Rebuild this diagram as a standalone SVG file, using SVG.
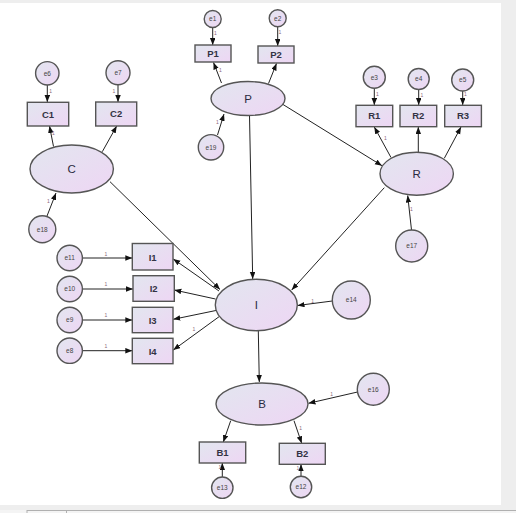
<svg xmlns="http://www.w3.org/2000/svg" width="516" height="513" viewBox="0 0 516 513">
<defs>
<linearGradient id="g" x1="0" y1="0" x2="1" y2="1">
<stop offset="0" stop-color="#e2e6ef"/>
<stop offset="1" stop-color="#eed6f4"/>
</linearGradient>
<marker id="a" markerUnits="userSpaceOnUse" markerWidth="8" markerHeight="6" refX="7" refY="2.75" orient="auto">
<path d="M0,0 L7,2.75 L0,5.5 z" fill="#111"/>
</marker>
<style>
.n{fill:url(#g);stroke:#555;stroke-width:1.4}
.lv{font-family:"Liberation Sans",Arial,sans-serif;font-size:11.5px;fill:#2a2a40;text-anchor:middle}
.ob{font-family:"Liberation Sans",Arial,sans-serif;font-size:9.5px;font-weight:bold;fill:#333344;text-anchor:middle}
.er{font-family:"Liberation Sans",Arial,sans-serif;font-size:6.5px;fill:#444;text-anchor:middle}
.one{font-family:"Liberation Sans",Arial,sans-serif;font-size:5px;fill:#8a6a7a;text-anchor:middle}
.c line{stroke:#222;stroke-width:1;marker-end:url(#a)}
</style>
</defs>
<rect x="0" y="0" width="516" height="513" fill="#eeeeee"/>
<rect x="0" y="3" width="501" height="502" fill="#ffffff"/>
<rect x="0" y="510" width="516" height="3" fill="#f4f4f4"/>
<line x1="27" y1="510.5" x2="516" y2="510.5" stroke="#b0b0b0" stroke-width="1"/>
<line x1="27" y1="510" x2="27" y2="513" stroke="#b0b0b0" stroke-width="1"/>
<line x1="66.5" y1="510" x2="66.5" y2="513" stroke="#b0b0b0" stroke-width="1"/>

<g class="c" id="connectors">
<line x1="212.7" y1="27.5" x2="212.7" y2="45"/>
<line x1="277.7" y1="27" x2="277.7" y2="46"/>
<line x1="221.5" y1="83" x2="213.5" y2="62.5"/>
<line x1="268.5" y1="83.5" x2="276.5" y2="63.5"/>
<line x1="217.5" y1="135" x2="224" y2="114"/>
<line x1="249.5" y1="115.5" x2="252.7" y2="279"/>
<line x1="282.7" y1="104.3" x2="382" y2="165.7"/>
<line x1="374.3" y1="88.5" x2="374.3" y2="105"/>
<line x1="418.7" y1="89.5" x2="418.7" y2="105"/>
<line x1="462.7" y1="91" x2="462.7" y2="105"/>
<line x1="391" y1="157.5" x2="374.3" y2="127"/>
<line x1="418.3" y1="152.3" x2="418.3" y2="127"/>
<line x1="444.3" y1="158.3" x2="461" y2="127"/>
<line x1="411.5" y1="230" x2="407.7" y2="195.5"/>
<line x1="384.3" y1="187.7" x2="291.7" y2="290"/>
<line x1="53.5" y1="146.5" x2="49.5" y2="126"/>
<line x1="102.3" y1="151.7" x2="116.7" y2="126"/>
<line x1="47.3" y1="85" x2="47.3" y2="102"/>
<line x1="118" y1="84.7" x2="118" y2="102"/>
<line x1="47" y1="216" x2="56" y2="193"/>
<line x1="110" y1="181.7" x2="220" y2="289.5"/>
<line x1="219" y1="291" x2="173.3" y2="259"/>
<line x1="215.5" y1="299" x2="174.3" y2="290"/>
<line x1="218.3" y1="310" x2="173.3" y2="319.3"/>
<line x1="220" y1="316" x2="173.3" y2="350"/>
<line x1="82.4" y1="258" x2="132.3" y2="258"/>
<line x1="82.4" y1="289" x2="133" y2="289"/>
<line x1="82.4" y1="320" x2="132.3" y2="320"/>
<line x1="82.4" y1="350.7" x2="132.3" y2="350.7"/>
<line x1="332.3" y1="301" x2="297.5" y2="305.5"/>
<line x1="258.3" y1="330.7" x2="259.3" y2="382"/>
<line x1="357.5" y1="392" x2="308.5" y2="403.3"/>
<line x1="230.7" y1="420.7" x2="223.3" y2="442"/>
<line x1="294" y1="420.7" x2="301.7" y2="443.3"/>
<line x1="222.3" y1="477" x2="222.3" y2="463"/>
<line x1="301" y1="476.3" x2="301" y2="464.3"/>
</g>

<g id="pathlabels">
<text class="one" x="215.5" y="35">1</text>
<text class="one" x="280" y="34">1</text>
<text class="one" x="220.5" y="72">1</text>
<text class="one" x="217.5" y="123.5">1</text>
<text class="one" x="50.7" y="92.5" fill="#c04040">1</text>
<text class="one" x="114" y="92.5">1</text>
<text class="one" x="53.3" y="134.5">1</text>
<text class="one" x="48.3" y="203">1</text>
<text class="one" x="377.5" y="96">1</text>
<text class="one" x="422" y="96.5">1</text>
<text class="one" x="465.5" y="96">1</text>
<text class="one" x="385.5" y="140">1</text>
<text class="one" x="411.5" y="211">1</text>
<text class="one" x="106" y="256" fill="#5a7aa8">1</text>
<text class="one" x="106" y="286" fill="#5a7aa8">1</text>
<text class="one" x="106" y="317" fill="#5a7aa8">1</text>
<text class="one" x="106" y="348" fill="#5a7aa8">1</text>
<text class="one" x="194" y="331" fill="#5a7aa8">1</text>
<text class="one" x="312.7" y="302.5">1</text>
<text class="one" x="331.7" y="396" fill="#5a7aa8">1</text>
<text class="one" x="300.7" y="429.5" fill="#c04040">1</text>
<text class="one" x="220" y="469">1</text>
<text class="one" x="298" y="470">1</text>
</g>

<g id="P"><ellipse class="n" cx="248" cy="98.5" rx="37" ry="17"/><text class="lv" x="248" y="102.5">P</text></g>
<g id="C"><ellipse class="n" cx="71.7" cy="169" rx="41.7" ry="24"/><text class="lv" x="71.7" y="173">C</text></g>
<g id="R"><ellipse class="n" cx="416.7" cy="173.7" rx="36.7" ry="21.5"/><text class="lv" x="416.7" y="177.7">R</text></g>
<g id="I"><ellipse class="n" cx="256.3" cy="305" rx="41" ry="25.7"/><text class="lv" x="256.3" y="309">I</text></g>
<g id="B"><ellipse class="n" cx="262" cy="404" rx="46" ry="21"/><text class="lv" x="262" y="408">B</text></g>

<g id="P1"><rect class="n" x="195" y="45" width="36" height="17"/><text class="ob" x="213" y="57">P1</text></g>
<g id="P2"><rect class="n" x="258" y="46" width="36" height="17"/><text class="ob" x="276" y="58">P2</text></g>
<g id="C1"><rect class="n" x="27.3" y="102.3" width="41.4" height="23.7"/><text class="ob" x="48" y="117.5">C1</text></g>
<g id="C2"><rect class="n" x="95.7" y="102" width="41" height="24"/><text class="ob" x="116.2" y="117.3">C2</text></g>
<g id="R1"><rect class="n" x="356" y="105.3" width="36.7" height="21.4"/><text class="ob" x="374.3" y="119.3">R1</text></g>
<g id="R2"><rect class="n" x="400" y="105.3" width="36.7" height="21.4"/><text class="ob" x="418.3" y="119.3">R2</text></g>
<g id="R3"><rect class="n" x="444.7" y="105.3" width="36.7" height="21.4"/><text class="ob" x="463" y="119.3">R3</text></g>
<g id="I1"><rect class="n" x="132.3" y="243.5" width="40.7" height="26.5"/><text class="ob" x="152.7" y="260.5">I1</text></g>
<g id="I2"><rect class="n" x="133" y="275.7" width="41.3" height="25.6"/><text class="ob" x="153.7" y="292">I2</text></g>
<g id="I3"><rect class="n" x="132.3" y="307.3" width="40.7" height="25.4"/><text class="ob" x="152.7" y="323.5">I3</text></g>
<g id="I4"><rect class="n" x="132.3" y="338.3" width="40.7" height="25.4"/><text class="ob" x="152.7" y="354.5">I4</text></g>
<g id="B1"><rect class="n" x="199.3" y="442" width="46.4" height="21"/><text class="ob" x="222.5" y="456">B1</text></g>
<g id="B2"><rect class="n" x="279.3" y="443.3" width="46" height="21"/><text class="ob" x="302.3" y="457.3">B2</text></g>

<g id="e1"><circle class="n" cx="212.7" cy="19" r="8.5"/><text class="er" x="212.7" y="21.3">e1</text></g>
<g id="e2"><circle class="n" cx="277.7" cy="18.3" r="8.5"/><text class="er" x="277.7" y="20.6">e2</text></g>
<g id="e3"><circle class="n" cx="374.3" cy="77.3" r="11"/><text class="er" x="374.3" y="79.6">e3</text></g>
<g id="e4"><circle class="n" cx="418.7" cy="79" r="10.5"/><text class="er" x="418.7" y="81.3">e4</text></g>
<g id="e5"><circle class="n" cx="462.7" cy="80" r="11"/><text class="er" x="462.7" y="82.3">e5</text></g>
<g id="e6"><circle class="n" cx="47.3" cy="73.3" r="11.7"/><text class="er" x="47.3" y="75.6">e6</text></g>
<g id="e7"><circle class="n" cx="118" cy="72.7" r="12"/><text class="er" x="118" y="75">e7</text></g>
<g id="e8"><circle class="n" cx="69.7" cy="350.7" r="12.7"/><text class="er" x="69.7" y="353">e8</text></g>
<g id="e9"><circle class="n" cx="69.7" cy="320" r="12.7"/><text class="er" x="69.7" y="322.3">e9</text></g>
<g id="e10"><circle class="n" cx="69.7" cy="289" r="12.7"/><text class="er" x="69.7" y="291.3">e10</text></g>
<g id="e11"><circle class="n" cx="69.7" cy="258" r="12.7"/><text class="er" x="69.7" y="260.3">e11</text></g>
<g id="e12"><circle class="n" cx="301" cy="487" r="10.7"/><text class="er" x="301" y="489.3">e12</text></g>
<g id="e13"><circle class="n" cx="222.3" cy="487.7" r="10.7"/><text class="er" x="222.3" y="490">e13</text></g>
<g id="e14"><circle class="n" cx="351.3" cy="300" r="19"/><text class="er" x="351.3" y="302.3">e14</text></g>
<g id="e16"><circle class="n" cx="373.3" cy="389.3" r="16"/><text class="er" x="373.3" y="391.6">e16</text></g>
<g id="e17"><circle class="n" cx="411.7" cy="246" r="16"/><text class="er" x="411.7" y="248.3">e17</text></g>
<g id="e18"><circle class="n" cx="42.3" cy="229.3" r="13.5"/><text class="er" x="42.3" y="231.6">e18</text></g>
<g id="e19"><circle class="n" cx="211" cy="147.3" r="12.7"/><text class="er" x="211" y="149.6">e19</text></g>
</svg>
